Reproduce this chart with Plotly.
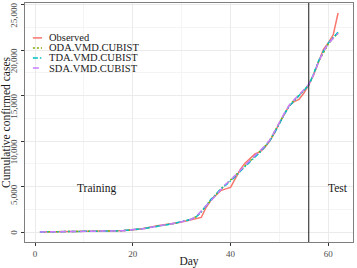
import plotly.graph_objects as go

# ---------------- data ----------------
days = list(range(1, 63))

observed = [10, 12, 15, 18, 22, 26, 30, 35, 40, 45,
            52, 60, 68, 78, 90, 105, 125, 150, 185, 230,
            290, 370, 470, 620, 700, 760, 820, 900, 1000, 1110,
            1240, 1380, 1460, 1600, 2700, 3500, 4050, 4550, 4750, 4900,
            5900, 6900, 7600, 8150, 8600, 8800, 9300, 10000, 10900, 12000,
            13000, 13900, 14350, 14600, 15300, 16200, 17300, 18700, 20100, 20800,
            21700, 24100]

oda = [10, 12, 15, 18, 22, 26, 30, 35, 40, 45,
       52, 60, 68, 78, 90, 105, 125, 150, 185, 230,
       285, 360, 450, 560, 650, 730, 810, 900, 1000, 1120,
       1260, 1420, 1700, 2250, 2900, 3550, 4100, 4700, 5200, 5650,
       6150, 6750, 7300, 7800, 8300, 8800, 9400, 10050, 10950, 12000,
       13000, 13900, 14500, 15000, 15600, 16200, 17350, 18750, 19800, 20700,
       21350, 21900]

tda = [10, 12, 15, 18, 22, 26, 30, 35, 40, 45,
       52, 60, 68, 78, 90, 105, 125, 150, 185, 230,
       280, 355, 445, 555, 645, 725, 805, 895, 1000, 1125,
       1270, 1430, 1680, 2200, 2950, 3600, 4150, 4750, 5150, 5600,
       6100, 6700, 7250, 7750, 8250, 8750, 9350, 10000, 10900, 11950,
       12950, 13850, 14450, 14950, 15550, 16150, 17400, 18800, 19900, 20800,
       21400, 22000]

sda = [10, 12, 15, 18, 22, 26, 30, 35, 40, 45,
       52, 60, 68, 78, 90, 105, 125, 150, 185, 230,
       290, 365, 455, 565, 655, 735, 815, 905, 1005, 1115,
       1250, 1410, 1720, 2300, 2850, 3500, 4050, 4650, 5250, 5700,
       6200, 6800, 7350, 7850, 8350, 8850, 9450, 10100, 11000, 12050,
       13050, 13950, 14550, 15050, 15650, 16250, 17300, 18700, 19850, 20750,
       21300, 21850]

series_names = ["Observed", "ODA.VMD.CUBIST", "TDA.VMD.CUBIST", "SDA.VMD.CUBIST"]
series_values = [observed, oda, tda, sda]

x_ticks = [0, 20, 40, 60]
y_ticks = [0, 5000, 10000, 15000, 20000, 25000]
y_tick_labels = ["0", "5,000", "10,000", "15,000", "20,000", "25,000"]

split_day = 56
region_labels = ["Training", "Test"]
region_label_x = [12.6, 62.0]
region_label_y = [4750, 4790]

# ---------------- style ----------------
colors = ["#F8766D", "#7CAE00", "#00BFC4", "#C77CFF"]
dashes = ["solid", "2px,2px", "5px,2px,1.5px,2px", "6px,4px"]
SERIF = "Liberation Serif, Times New Roman, serif"
GRID = "#ebebeb"
MINOR = "#f4f4f4"
BORDER = "#7f7f7f"
TICKTXT = "#4d4d4d"


def char_units(s):
    return sum(1 if c != "," else 0.5 for c in s)


longest = max(char_units(s) for s in y_tick_labels)


def pad_label(s):
    # pad the start so every rotated label has equal length; combined with a
    # constant shift, each label then ends at its tick (ggplot hjust = 1)
    missing = longest - char_units(s)
    digits = int(missing)
    halves = 1 if missing - digits > 0 else 0
    return "\u2007" * digits + "\u2008" * halves + s


fig = go.Figure()
for name, vals, col, dsh in zip(series_names, series_values, colors, dashes):
    fig.add_trace(go.Scatter(
        x=days, y=vals, mode="lines", name=name,
        line=dict(color=col, width=1.5, dash=dsh),
        showlegend=False,
    ))

# vertical split line
fig.add_vline(x=split_day, line=dict(color="#1a1a1a", width=1))

# region labels
for txt, lx, ly in zip(region_labels, region_label_x, region_label_y):
    fig.add_annotation(x=lx, y=ly, xref="x", yref="y", text=txt, showarrow=False,
                       borderpad=0,
                       font=dict(family=SERIF, size=11.5, color="#1a1a1a"))

# compact legend (ggplot style)
row_y = [0.854, 0.812, 0.770, 0.728]
for name, col, dsh, ry in zip(series_names, colors, dashes, row_y):
    fig.add_shape(type="line", xref="paper", yref="paper",
                  x0=0.024, x1=0.052, y0=ry, y1=ry,
                  line=dict(color=col, width=1.5, dash=dsh))
    fig.add_annotation(x=0.069, y=ry, xref="paper", yref="paper", text=name,
                       showarrow=False, xanchor="left", yanchor="middle",
                       borderpad=0,
                       font=dict(family=SERIF, size=10.5, color="#1a1a1a"))

fig.update_layout(
    width=357, height=268,
    margin=dict(l=25, r=4, t=3, b=26, autoexpand=False),
    paper_bgcolor="white", plot_bgcolor="white",
    font=dict(family=SERIF, color="#1a1a1a"),
    showlegend=False,
)

fig.update_xaxes(
    range=[-2.05, 65.05], tickvals=x_ticks,
    ticks="outside", ticklen=3, tickcolor="#333333", tickwidth=1,
    tickfont=dict(family=SERIF, size=9, color=TICKTXT),
    showgrid=True, gridcolor=GRID, gridwidth=1,
    minor=dict(dtick=10, tick0=0, showgrid=True, gridcolor=MINOR, gridwidth=0.5, ticks=""),
    showline=True, linecolor=BORDER, linewidth=1, mirror=True,
    zeroline=False, automargin=False,
    title=dict(text="Day", font=dict(family=SERIF, size=11.5, color="#1a1a1a"), standoff=0),
)

fig.update_yaxes(
    range=[-1100, 25200], tickvals=y_ticks,
    ticktext=[pad_label(s) for s in y_tick_labels], tickangle=-90,
    ticklabelshift=12, ticklabeloverflow="allow",
    ticks="outside", ticklen=3, tickcolor="#333333", tickwidth=1,
    tickfont=dict(family=SERIF, size=9, color=TICKTXT),
    showgrid=True, gridcolor=GRID, gridwidth=1,
    minor=dict(dtick=2500, tick0=0, showgrid=True, gridcolor=MINOR, gridwidth=0.5, ticks=""),
    showline=True, linecolor=BORDER, linewidth=1, mirror=True,
    zeroline=False, automargin=False,
    title=dict(text="Cumulative confirmed cases",
               font=dict(family=SERIF, size=11.5, color="#1a1a1a"), standoff=0),
)

fig.write_html(
    "out.html",
    config={"displayModeBar": False},
    post_script="document.body.style.margin='0';document.body.style.padding='0';"
                "document.documentElement.style.overflow='hidden';",
)
